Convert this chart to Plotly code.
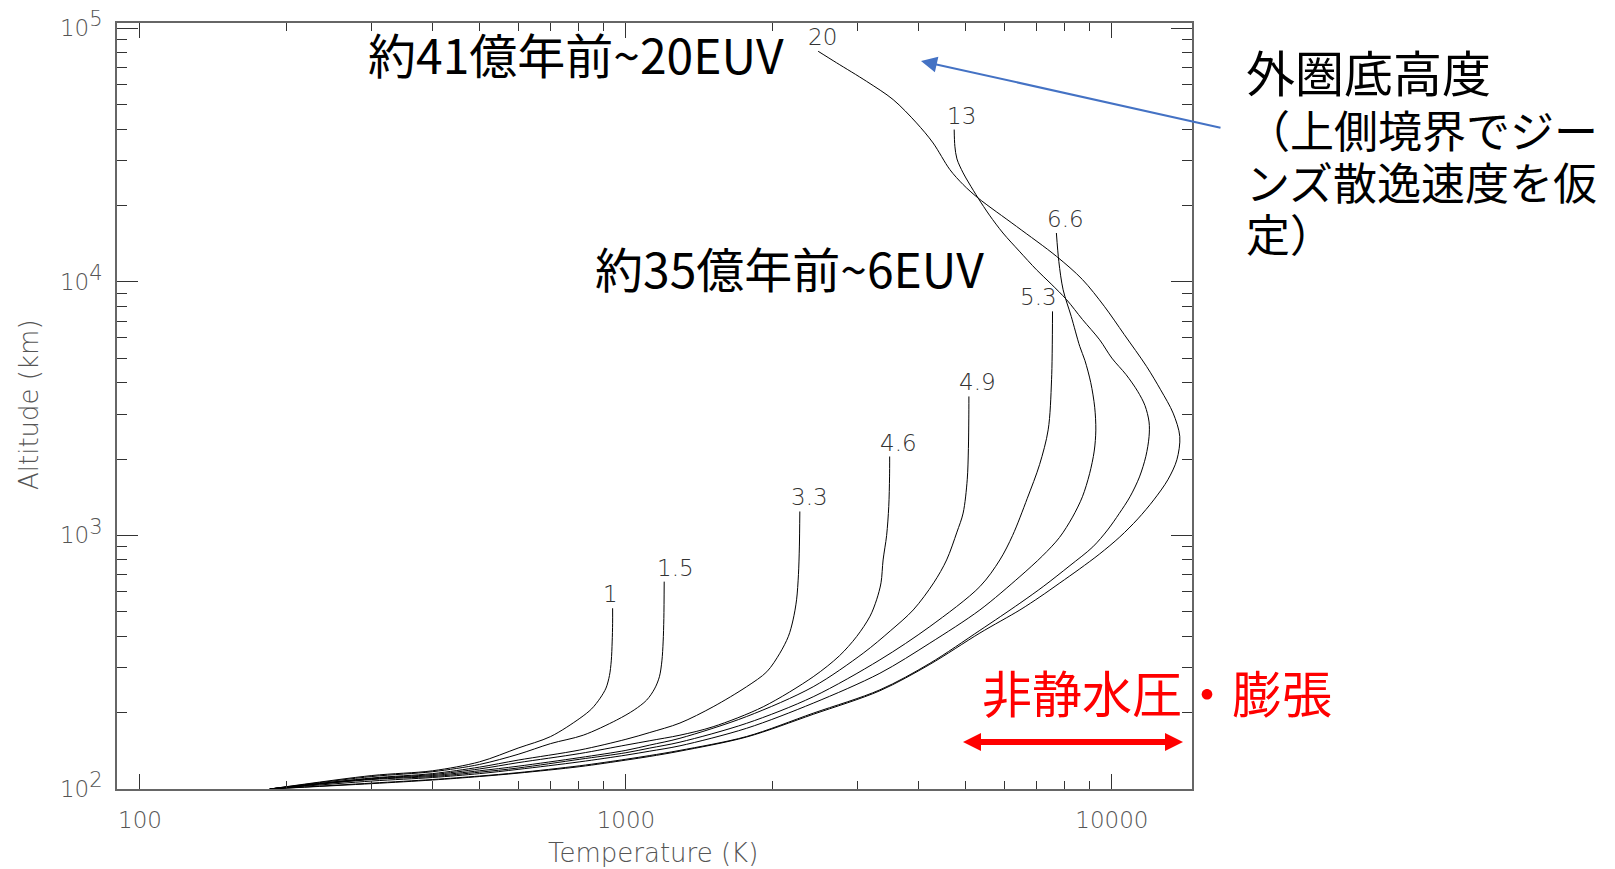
import math
import plotly.graph_objects as go

# ---------------- data ----------------
curve_labels = ["1", "1.5", "3.3", "4.6", "4.9", "5.3", "6.6", "13", "20"]

temp_1 = [185, 300, 400, 500, 600, 700, 804, 850, 885, 910, 925, 933, 937, 939, 939]
alt_1 = [100, 113, 118, 128, 145, 161, 190, 207, 228, 250, 280, 320, 380, 450, 516]

temp_15 = [185, 300, 400, 500, 600, 700, 817, 957, 1040, 1103, 1145, 1172, 1186, 1193, 1197, 1199]
alt_15 = [100, 112, 117, 125, 137, 151, 163, 187, 205, 224, 248, 277, 320, 380, 470, 657]

temp_33 = [185, 300, 400, 500, 600, 804, 1000, 1120, 1292, 1512, 1771, 1950, 2074, 2160, 2208, 2245, 2265,
           2275, 2280]
alt_33 = [100, 110.5, 115, 122, 130, 142.5, 157, 167, 182, 211, 253, 290, 343, 400, 464, 557, 700, 900, 1242]

temp_46 = [185, 300, 400, 500, 600, 804, 1000, 1120, 1292, 1512, 1917, 2429, 2750, 2984, 3180, 3280, 3350,
           3383, 3440, 3475, 3488, 3490]
alt_46 = [100, 110, 114, 120, 127, 138, 149, 155, 163, 176, 211, 277, 335, 399, 480, 557, 650, 800, 1000,
          1300, 1700, 2046]

temp_49 = [185, 300, 400, 500, 600, 804, 1000, 1120, 1292, 1771, 2429, 3078, 3500, 3902, 4300, 4571, 4800,
           4943, 5040, 5068, 5078, 5080]
alt_49 = [100, 109.5, 113, 118, 123, 133, 142, 149, 158.5, 193, 253, 343, 420, 508, 650, 800, 1030, 1224,
          1656, 2200, 2900, 3529]

temp_53 = [185, 300, 400, 500, 600, 804, 1000, 1120, 1292, 1771, 2429, 3332, 4222, 5351, 5882, 6250, 6700,
           7100, 7396, 7516, 7550]
alt_53 = [100, 109, 112, 116.5, 121, 131, 139, 145, 153, 181.5, 231, 323, 437, 628, 800, 1000, 1400, 1900,
          2606, 4106, 7640]

temp_66 = [185, 300, 400, 500, 600, 804, 1000, 1120, 1292, 1771, 2429, 3332, 4222, 5351, 6469, 7200, 7800,
           8300, 8700, 9000, 9200, 9270, 9220, 9050, 8800, 8590, 8250, 7940, 7780, 7690]
alt_66 = [100, 107.5, 111, 115, 119.5, 128, 136, 141, 148, 173.5, 218, 286, 376, 508, 688, 830, 980, 1180,
          1420, 1750, 2150, 2600, 3200, 4000, 4900, 5560, 7300, 9290, 12000, 15560]

temp_13 = [185, 300, 400, 500, 600, 804, 1000, 1120, 1292, 1771, 2429, 3332, 4222, 5351, 6469, 7245, 8200,
           9140, 9800, 10356, 10900, 11400, 11750, 11930, 11930, 11700, 11300, 10700, 10000, 9441, 8700,
           8070, 7500, 7000, 6450, 5970, 5600, 5306, 5080, 4943, 4800, 4753, 4738]
alt_13 = [100, 105.5, 109, 112.5, 116, 123.5, 131, 135.5, 142, 161, 199, 246, 313, 422, 540, 631, 760,
          901, 1050, 1219, 1420, 1700, 2050, 2450, 2800, 3250, 3700, 4300, 5000, 5900, 7100,
          8496, 9800, 11140, 13200, 15560, 18300, 21380, 24500, 26850, 30500, 34200, 39800]

temp_20 = [185, 300, 400, 500, 600, 804, 1000, 1120, 1292, 1771, 2429, 3332, 4222, 5351, 6469, 7113, 7816,
           8590, 9441, 10387, 11310, 12200, 13040, 13610, 13800, 13370, 12600, 11787, 10600,
           9650, 8700, 7690, 6366, 5306, 4943, 4642, 4287, 3963, 3548, 3128, 2714, 2487]
alt_20 = [100, 105, 108.5, 112, 115.5, 122.5, 130, 134.4, 141, 160.3, 197, 244, 310, 412, 508, 572, 649,
          738, 845, 986, 1161, 1380, 1656, 1986, 2454, 3034, 3750, 4637, 6200,
          8000, 10200, 12600, 16520, 21380, 24150, 27670, 35240, 42270, 52240, 61660, 72950, 81000]

curves_temp = [temp_1, temp_15, temp_33, temp_46, temp_49, temp_53, temp_66, temp_13, temp_20]
curves_alt = [alt_1, alt_15, alt_33, alt_46, alt_49, alt_53, alt_66, alt_13, alt_20]

x_tick_vals = [100, 1000, 10000]
x_tick_text = ["100", "1000", "10000"]
y_tick_vals = [100, 1000, 10000, 100000]
y_tick_exp = ["2", "3", "4", "5"]
x_minor_vals = [200, 300, 400, 500, 600, 700, 800, 900, 2000, 3000, 4000, 5000, 6000, 7000, 8000, 9000]
y_minor_vals = [200, 300, 400, 500, 600, 700, 800, 900, 2000, 3000, 4000, 5000, 6000, 7000, 8000, 9000,
                20000, 30000, 40000, 50000, 60000, 70000, 80000, 90000]

text_era_old = "約41億年前~20EUV"
text_era_new = "約35億年前~6EUV"
text_exo_lines = ["外圏底高度", "（上側境界でジー", "ンズ散逸速度を仮", "定）"]
text_nonhydro = "非静水圧・膨張"
x_title = "Temperature (K)"
y_title = "Altitude (km)"

# ---------------- style / layout ----------------
OFF = 8                      # browser body margin
W, H = 1615 - OFF, 869 - OFF
# plot box in screen pixels
SL, SR, ST, SB = 117, 1192, 23, 789
PL, PR, PT, PB = SL - OFF, SR - OFF, ST - OFF, SB - OFF
label_xshift = [-2, 11, 10, 9, 9, -14, 9, 7, 4]

HERSHEY = "'DejaVu Sans', sans-serif"
CJK = "'Noto Sans CJK JP', 'Noto Sans', sans-serif"


def pxx(sx):
    return (sx - SL) / (SR - SL)


def pxy(sy):
    return (SB - sy) / (SB - ST)


y_tick_text = [f"10<sup><span style='font-size:21px'>{e}</span></sup>" for e in y_tick_exp]

fig = go.Figure()
for t, a in zip(curves_temp, curves_alt):
    fig.add_trace(go.Scatter(x=t, y=a, mode="lines",
                             line=dict(color="black", width=1, shape="spline", smoothing=0.9),
                             showlegend=False, hoverinfo="skip"))

annotations = []
for lab, t, a, dx in zip(curve_labels, curves_temp, curves_alt, label_xshift):
    annotations.append(dict(x=math.log10(t[-1]), y=math.log10(a[-1]), xref="x", yref="y",
                            text=lab, showarrow=False, xanchor="center", yanchor="middle",
                            xshift=dx, yshift=14,
                            font=dict(family=HERSHEY, size=23, color="#333", weight=200)))

annotations += [
    dict(x=pxx(653), y=pxy(853), xref="paper", yref="paper", text=x_title, showarrow=False,
         xanchor="center", yanchor="middle", font=dict(family=HERSHEY, size=26, color="#555", weight=200)),
    dict(x=pxx(29), y=pxy(405), xref="paper", yref="paper", text=y_title, showarrow=False,
         textangle=-90, xanchor="center", yanchor="middle",
         font=dict(family=HERSHEY, size=26, color="#555", weight=200)),
    dict(x=pxx(366), y=pxy(53), xref="paper", yref="paper", text=text_era_old, showarrow=False,
         xanchor="left", yanchor="middle", font=dict(family=CJK, size=48, color="black")),
    dict(x=pxx(593), y=pxy(267), xref="paper", yref="paper", text=text_era_new, showarrow=False,
         xanchor="left", yanchor="middle", font=dict(family=CJK, size=48, color="black")),
    dict(x=pxx(980), y=pxy(691), xref="paper", yref="paper", text=text_nonhydro, showarrow=False,
         xanchor="left", yanchor="middle", font=dict(family=CJK, size=50, color="#ff0000")),
]
exo_y = [70, 129, 181, 233]
exo_size = [49, 44, 44, 44]
for line, yy, sz in zip(text_exo_lines, exo_y, exo_size):
    annotations.append(dict(x=pxx(1244), y=pxy(yy), xref="paper", yref="paper", text=line,
                            showarrow=False, xanchor="left", yanchor="middle",
                            font=dict(family=CJK, size=sz, color="black")))

# blue arrow pointing to the exobase
annotations.append(dict(x=pxx(921), y=pxy(61), xref="paper", yref="paper", text="",
                        showarrow=True, ax=301, ay=67, axref="pixel", ayref="pixel",
                        arrowhead=2, arrowsize=1.6, arrowwidth=2, arrowcolor="#4472C4"))

# red double arrow
ay_px = 742
xl, xr = 963, 1183
head_len, head_half = 18, 9
shapes = [
    dict(type="line", xref="paper", yref="paper", x0=pxx(xl + head_len - 2), x1=pxx(xr - head_len + 2),
         y0=pxy(ay_px), y1=pxy(ay_px), line=dict(color="#ff0000", width=6)),
    dict(type="path", xref="paper", yref="paper",
         path=f"M {pxx(xl)} {pxy(ay_px)} L {pxx(xl + head_len)} {pxy(ay_px - head_half)} "
              f"L {pxx(xl + head_len)} {pxy(ay_px + head_half)} Z",
         fillcolor="#ff0000", line=dict(width=0)),
    dict(type="path", xref="paper", yref="paper",
         path=f"M {pxx(xr)} {pxy(ay_px)} L {pxx(xr - head_len)} {pxy(ay_px - head_half)} "
              f"L {pxx(xr - head_len)} {pxy(ay_px + head_half)} Z",
         fillcolor="#ff0000", line=dict(width=0)),
]

axis_common = dict(type="log", showgrid=False, zeroline=False, showline=True, linecolor="#666",
                   linewidth=1.5, mirror="ticks", ticks="inside", tickcolor="#333", tickwidth=1,
                   ticklabeloverflow="allow", automargin=False,
                   tickfont=dict(family=HERSHEY, size=23, color="#555", weight=200))

fig.update_layout(
    width=W, height=H,
    margin=dict(l=PL, r=W - PR, t=PT, b=H - PB, pad=0, autoexpand=False),
    paper_bgcolor="white", plot_bgcolor="white",
    xaxis=dict(**axis_common, range=[1.9527, 4.165], tickvals=x_tick_vals, ticktext=x_tick_text,
               ticklen=15, ticklabelstandoff=10,
               minor=dict(tickvals=x_minor_vals, ticks="inside", ticklen=8, tickcolor="#333", tickwidth=1)),
    yaxis=dict(**axis_common, range=[2, 5.02], tickvals=y_tick_vals, ticktext=y_tick_text,
               ticklen=21, ticklabelstandoff=8,
               minor=dict(tickvals=y_minor_vals, ticks="inside", ticklen=10, tickcolor="#333", tickwidth=1)),
    annotations=annotations,
    shapes=shapes,
)

fig.write_html("out.html")
